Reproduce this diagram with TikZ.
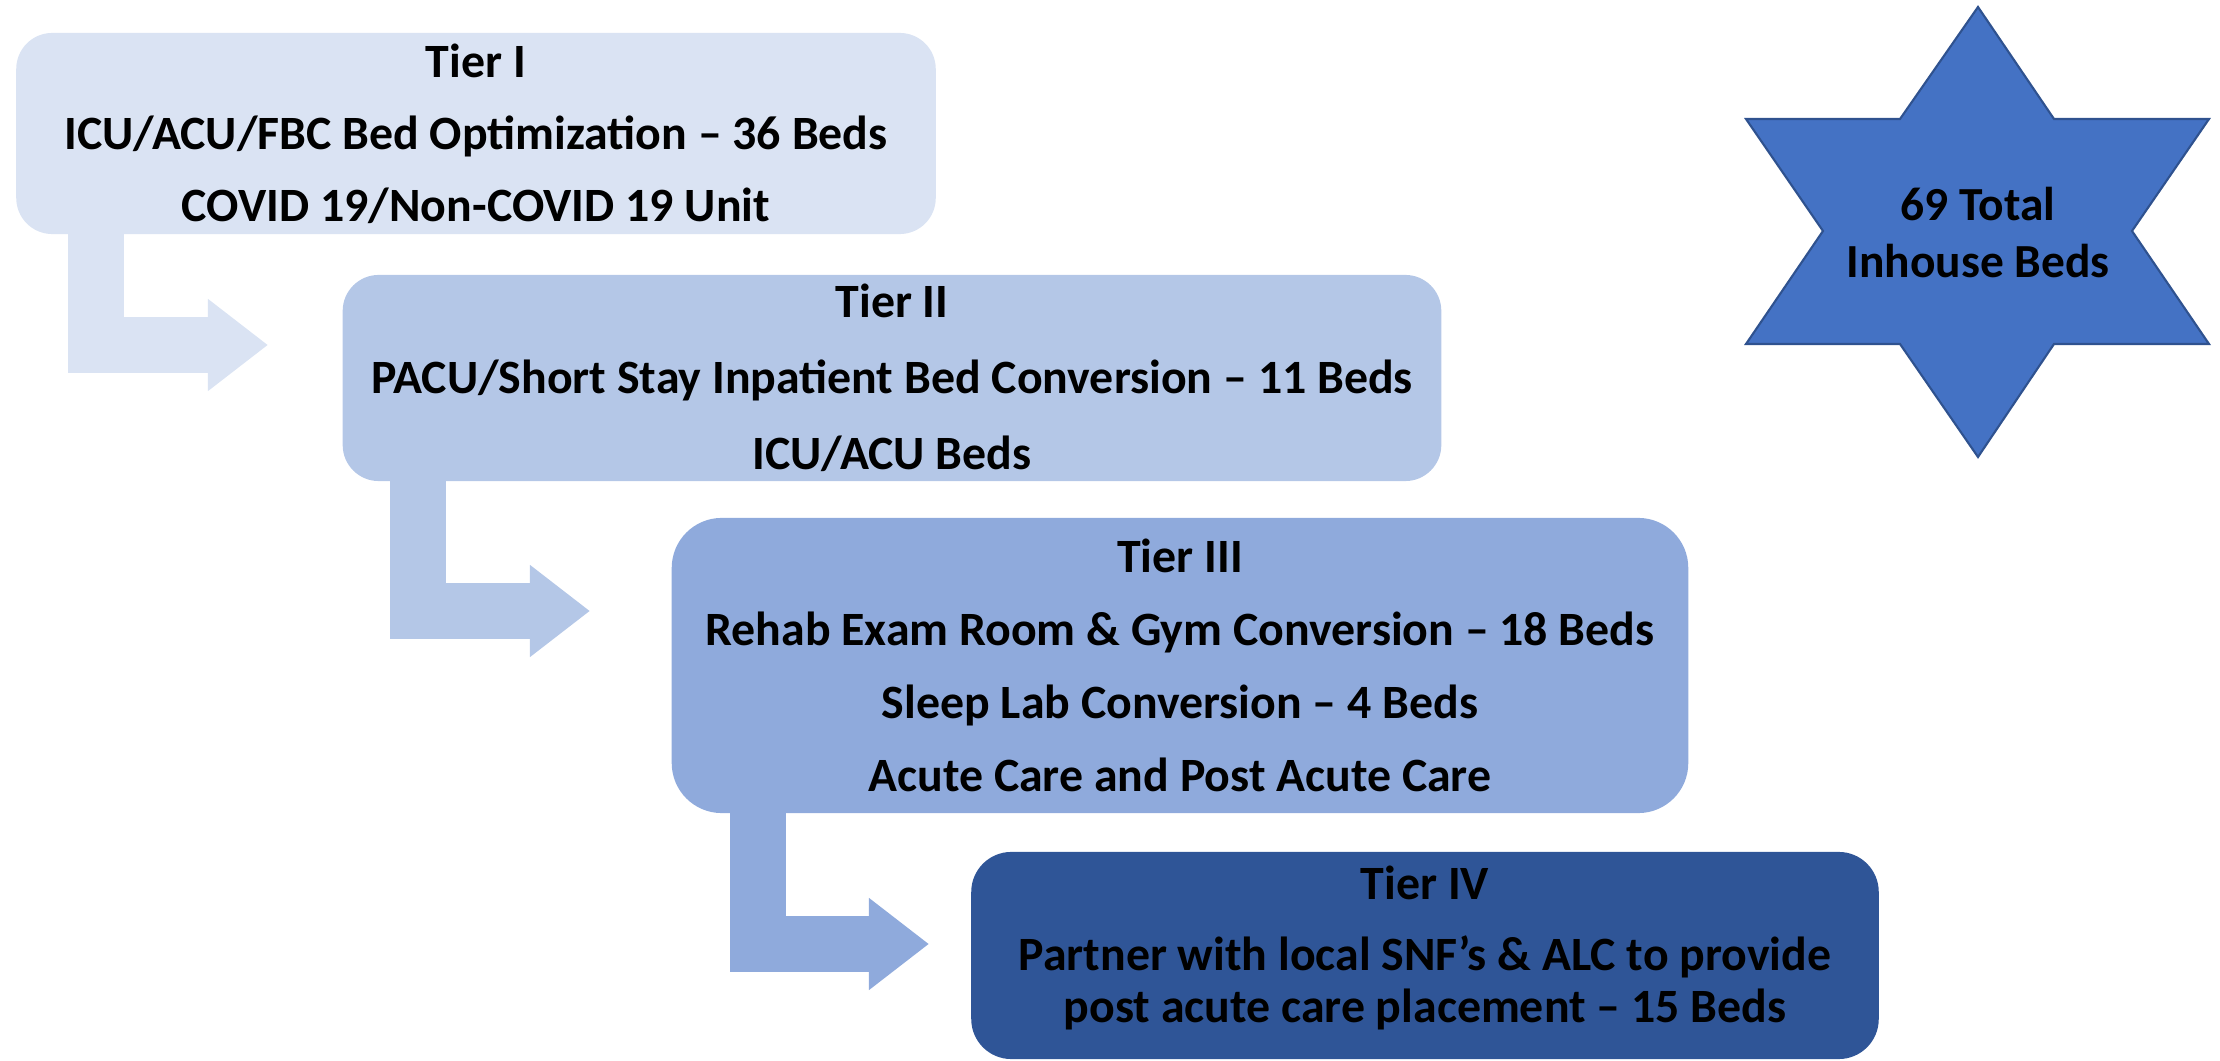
\documentclass[tikz,border=0pt]{standalone}
\usepackage{fontspec}
\setmainfont{Carlito}
\usetikzlibrary{arrows.meta,positioning,calc}
\definecolor{tierIfill}{HTML}{DAE3F3}
\definecolor{tierIIfill}{HTML}{B4C7E7}
\definecolor{tierIIIfill}{HTML}{8FAADC}
\definecolor{tierIVfill}{HTML}{2F5597}
\definecolor{starfill}{HTML}{4472C4}
\definecolor{stardraw}{HTML}{2F528F}
\tikzset{
  tierbox/.style={shape=rectangle, rounded corners=0.36cm, inner sep=0pt, align=center,
    font=\fontsize{13.6}{14.8}\selectfont\bfseries},
  flow/.style={line width=0.56cm, -{Triangle[width=0.88cm,length=0.6cm]}},
  starshape/.style={fill=starfill, draw=stardraw, line width=0.6pt, line join=miter},
  startext/.style={align=center, inner sep=0pt, font=\fontsize{13.5}{16.2}\selectfont\bfseries},
}

\begin{document}
\begin{tikzpicture}[x=0.01cm,y=-0.01cm]
  \useasboundingbox (0,0) rectangle (2220,1061);

  \coordinate (tipI) at (268,345);
  \coordinate (tipII) at (590,611);
  \coordinate (tipIII) at (929,944);

  \node[tierbox, fill=tierIfill, minimum width=9.19cm, minimum height=2.01cm] (tierI) at (476,133.5)
    {Tier I\\[0.2cm] ICU/ACU/FBC Bed Optimization – 36 Beds\\[0.2cm] COVID 19/Non-COVID 19 Unit};
  \node[tierbox, fill=tierIIfill, minimum width=10.98cm, minimum height=2.06cm] (tierII) at (892,378)
    {Tier II\\[0.24cm] PACU/Short Stay Inpatient Bed Conversion – 11 Beds\\[0.24cm] ICU/ACU Beds};
  \node[tierbox, fill=tierIIIfill, rounded corners=0.5cm, minimum width=10.16cm, minimum height=2.95cm] (tierIII) at (1180,665.5)
    {Tier III\\[0.21cm] Rehab Exam Room \& Gym Conversion – 18 Beds\\[0.21cm] Sleep Lab Conversion – 4 Beds\\[0.21cm] Acute Care and Post Acute Care};
  \node[tierbox, fill=tierIVfill, rounded corners=0.4cm, minimum width=9.07cm, minimum height=2.07cm] (tierIV) at (1425,955.5)
    {};
  \node[tierbox, inner sep=0pt] (tierIVtext) at (1425,948)
    {Tier IV\\[0.19cm] Partner with local SNF’s \& ALC to provide\\ post acute care placement – 15 Beds};

  \draw[flow, draw=tierIfill] ($(tierI.south west)+(80,-2)$) |- (tipI);
  \draw[flow, draw=tierIIfill] ($(tierII.south west)+(76,-2)$) |- (tipII);
  \draw[flow, draw=tierIIIfill] ($(tierIII.south west)+(87,-2)$) |- (tipIII);

  % six-pointed star
  \draw[starshape] (1978,7) -- (2054,119) -- (2209,119) -- (2132,231) -- (2209,344) -- (2054,344)
    -- (1978,457) -- (1900,344) -- (1746,344) -- (1823,231) -- (1746,119) -- (1900,119) -- cycle;
  \node[startext] (total) at (1978,233) {69 Total\\ Inhouse Beds};

\end{tikzpicture}
\end{document}
